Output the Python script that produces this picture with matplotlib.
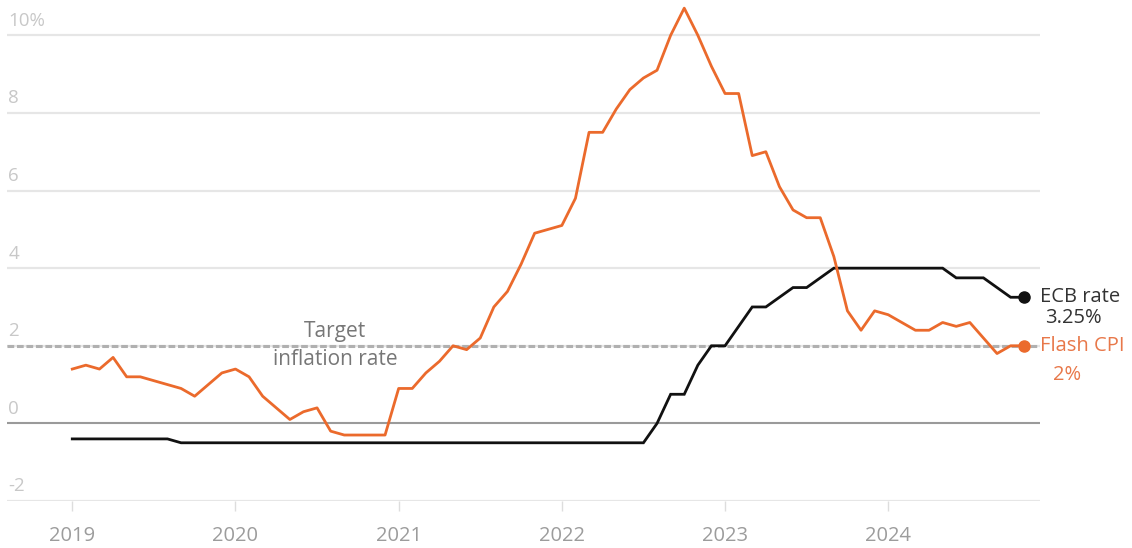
import numpy as np
import pandas as pd
import matplotlib
matplotlib.use("Agg")
import matplotlib.pyplot as plt
import matplotlib.transforms as mtransforms

plt.rcParams['font.family'] = ['Open Sans', 'DejaVu Sans']

# monthly data, Jan 2019 - Nov 2024
months = pd.date_range("2019-01-01", "2024-11-01", freq="MS")

flash_cpi = [
    1.4, 1.5, 1.4, 1.7, 1.2, 1.2, 1.1, 1.0, 0.9, 0.7, 1.0, 1.3,     # 2019
    1.4, 1.2, 0.7, 0.4, 0.1, 0.3, 0.4, -0.2, -0.3, -0.3, -0.3, -0.3,  # 2020
    0.9, 0.9, 1.3, 1.6, 2.0, 1.9, 2.2, 3.0, 3.4, 4.1, 4.9, 5.0,     # 2021
    5.1, 5.8, 7.5, 7.5, 8.1, 8.6, 8.9, 9.1, 10.0, 10.7, 10.0, 9.2,  # 2022
    8.5, 8.5, 6.9, 7.0, 6.1, 5.5, 5.3, 5.3, 4.3, 2.9, 2.4, 2.9,     # 2023
    2.8, 2.6, 2.4, 2.4, 2.6, 2.5, 2.6, 2.2, 1.8, 2.0, 2.0,          # 2024
]

ecb_rate = (
    [-0.4] * 8 + [-0.5] * 4                                           # 2019
    + [-0.5] * 12                                                     # 2020
    + [-0.5] * 12                                                     # 2021
    + [-0.5] * 7 + [0.0, 0.75, 0.75, 1.5, 2.0]                        # 2022
    + [2.0, 2.5, 3.0, 3.0, 3.25, 3.5, 3.5, 3.75, 4.0, 4.0, 4.0, 4.0]  # 2023
    + [4.0] * 5 + [3.75, 3.75, 3.75, 3.5, 3.25, 3.25]                 # 2024
)

target = 2.0
year_ticks = [2019, 2020, 2021, 2022, 2023, 2024]
y_ticks = [-2, 0, 2, 4, 6, 8, 10]
y_labels = ["-2", "0", "2", "4", "6", "8", "10%"]

x = months.year + (months.month - 1) / 12.0

orange = "#eb6a2c"
fig = plt.figure(figsize=(11.32, 5.48), dpi=100)
ax = fig.add_axes([7 / 1132, 47 / 548, 1033 / 1132, 501 / 548])
ax.set_xlim(2018.6, 2024.93)
ax.set_ylim(-2, 10.91)

# grid
for v in y_ticks:
    if v == 0:
        continue
    ax.axhline(v, color="#e6e6e6", lw=1.6, zorder=1)
ax.axhline(0, color="#9a9a9a", lw=1.5, zorder=2)
ax.axhline(target, color="#b0b0b0", lw=2.2, dashes=(2.2, 0.9), zorder=2)

ax.plot(x, ecb_rate, color="#111111", lw=2.0, zorder=4, solid_joinstyle="miter")
ax.plot(x, flash_cpi, color=orange, lw=2.0, zorder=5)
ax.plot(x[-1], ecb_rate[-1], "o", color="#111111", ms=8, zorder=6)
ax.plot(x[-1], flash_cpi[-1], "o", color=orange, ms=8, zorder=6)

for s in ax.spines.values():
    s.set_visible(False)
ax.set_yticks([])
ax.set_xticks(year_ticks)
ax.set_xticklabels([str(y) for y in year_ticks])
ax.tick_params(axis="x", length=7, width=1, color="#dddddd", pad=11,
               labelsize=14.5, labelcolor="#9c9c9c")

# y labels inside the plot, above the gridlines
trans = mtransforms.blended_transform_factory(ax.transAxes, ax.transData)
for v, lab in zip(y_ticks, y_labels):
    ax.annotate(lab, xy=(0.0, v), xycoords=trans, xytext=(1, 4),
                textcoords="offset points", ha="left", va="bottom",
                fontsize=13.5, color="#c8c8c8")

ax.text(2020.61, 2.1, "Target", ha="center", va="bottom",
        fontsize=15, color="#777777", zorder=3)
ax.text(2020.61, 1.92, "inflation rate", ha="center", va="top",
        fontsize=15, color="#777777", zorder=3)

ax.annotate("ECB rate", xy=(x[-1], ecb_rate[-1]), xytext=(11, 0),
            textcoords="offset points", ha="left", va="center",
            fontsize=14.5, color="#333333", annotation_clip=False)
ax.annotate("3.25%", xy=(x[-1], ecb_rate[-1]), xytext=(15, -15),
            textcoords="offset points", ha="left", va="center",
            fontsize=14.5, color="#333333", annotation_clip=False)
ax.annotate("Flash CPI", xy=(x[-1], flash_cpi[-1]), xytext=(11, 0),
            textcoords="offset points", ha="left", va="center",
            fontsize=14.5, color="#e8784a", annotation_clip=False)
ax.annotate("2%", xy=(x[-1], flash_cpi[-1]), xytext=(21, -21),
            textcoords="offset points", ha="left", va="center",
            fontsize=14.5, color="#e8784a", annotation_clip=False)

fig.savefig("out.png", dpi=100)
